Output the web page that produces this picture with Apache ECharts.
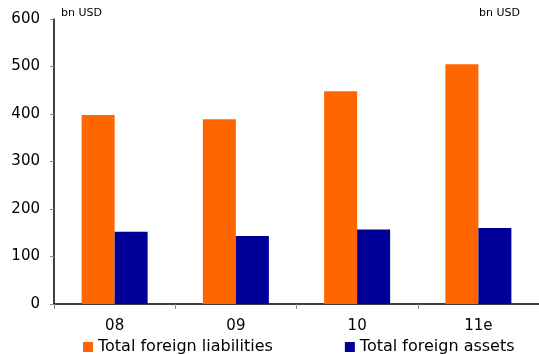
<!DOCTYPE html>
<html>
<head>
<meta charset="utf-8">
<script src="https://cdn.jsdelivr.net/npm/echarts@6/dist/echarts.min.js"></script>
<style>
  html, body { margin: 0; padding: 0; background: #fff; }
  #chart { width: 539px; height: 354px; }
</style>
</head>
<body>
<div id="chart"></div>
<script>
  const years = ['08', '09', '10', '11e']
  const liabilities = [398, 389, 448, 505]
  const assets = [152, 143, 157, 160]
  const yTicks = [0, 100, 200, 300, 400, 500, 600]

  const font = 'DejaVu Sans, Verdana, sans-serif'
  let chart = echarts.init(document.getElementById('chart'))
  let option = {
    animation: false,
    textStyle: { fontFamily: font },
    grid: { left: 54, right: 0, top: 19, bottom: 50 },
    graphic: [
      { type: 'text', left: 61, top: 8, style: { text: 'bn USD', font: '11px ' + font, fill: '#000' } },
      { type: 'text', right: 19, top: 8, style: { text: 'bn USD', font: '11px ' + font, fill: '#000' } }
    ],
    legend: {
      left: 78,
      top: 334,
      itemWidth: 10,
      itemHeight: 10,
      itemGap: 72,
      icon: 'rect',
      textStyle: { fontSize: 16, color: '#000', fontFamily: font },
      data: ['Total foreign liabilities', 'Total foreign assets']
    },
    xAxis: {
      type: 'category',
      data: years,
      axisLine: { lineStyle: { color: '#000', width: 1.5 } },
      axisTick: { show: true, length: 5, lineStyle: { color: '#888' } },
      axisLabel: { fontSize: 15, color: '#000', margin: 15, fontFamily: font }
    },
    yAxis: {
      type: 'value',
      min: yTicks[0],
      max: yTicks[yTicks.length - 1],
      interval: 100,
      splitLine: { show: false },
      axisLine: { show: true, lineStyle: { color: '#000', width: 1.5 } },
      axisTick: { show: true, length: 4, lineStyle: { color: '#888' } },
      axisLabel: { fontSize: 15, color: '#000', margin: 14, fontFamily: font }
    },
    series: [
      {
        name: 'Total foreign liabilities',
        type: 'bar',
        data: liabilities,
        barWidth: 33,
        barGap: '0%',
        itemStyle: { color: '#FF6600' }
      },
      {
        name: 'Total foreign assets',
        type: 'bar',
        data: assets,
        barWidth: 33,
        itemStyle: { color: '#000099' }
      }
    ]
  }
  chart.setOption(option)
</script>
</body>
</html>
